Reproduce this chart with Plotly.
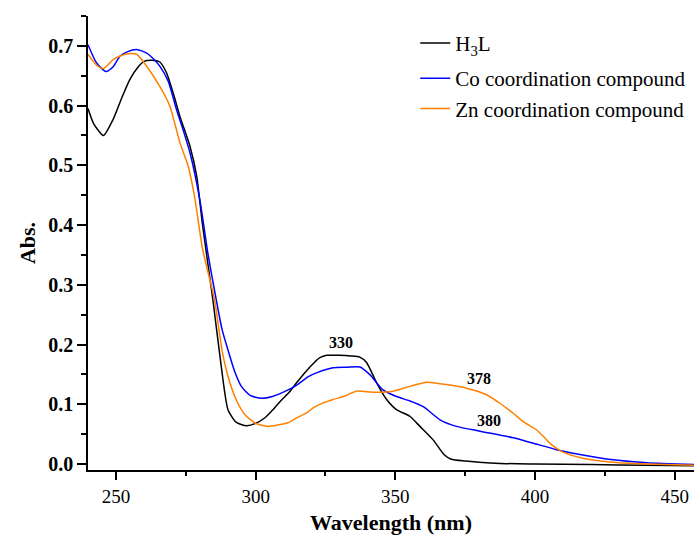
import plotly.graph_objects as go

# ---- data ----
h3l_x = [240, 242, 245.5, 249, 252, 255, 258, 260, 262.8, 265.7, 268.1, 270.5, 272.9, 276.5, 278.9,
         281, 284.7, 287.7, 290.1, 293, 296.7, 300, 303.2, 306, 309, 312, 315, 318, 321, 323, 325.4,
         330, 334, 337.3, 339.7, 343.3, 346.9, 350.4, 355.2, 358.8, 363.6, 367.4, 370, 375, 380,
         387.5, 400, 420, 440, 457]
h3l_y = [0.595, 0.57, 0.55, 0.577, 0.612, 0.644, 0.665, 0.674, 0.676, 0.673, 0.655, 0.621, 0.582, 0.532, 0.482,
         0.40, 0.275, 0.163, 0.091, 0.07, 0.064, 0.068, 0.077, 0.09, 0.106, 0.12, 0.138, 0.155, 0.17, 0.178, 0.182,
         0.182, 0.181, 0.179, 0.170, 0.136, 0.108, 0.091, 0.08, 0.063, 0.040, 0.016, 0.008, 0.005, 0.003,
         0.001, 0.0, -0.001, -0.002, -0.003]

co_x = [240, 243, 246.4, 249, 251.5, 254, 257.4, 261, 263.5, 265.7, 268.7, 271.7, 274, 276.5, 280,
        283, 285.9, 288, 290.1, 292.5, 294.9, 298, 302, 306, 311.6, 315, 318.7, 322, 327.7, 332.5,
        337.3, 340.8, 345.6, 350.4, 355, 360, 366, 371.9, 380.3, 392.2, 400, 407.7, 416.1, 428, 440, 457]
co_y = [0.702, 0.672, 0.657, 0.665, 0.683, 0.690, 0.694, 0.688, 0.678, 0.666, 0.641, 0.593, 0.56, 0.521, 0.443,
        0.35, 0.275, 0.225, 0.191, 0.155, 0.13, 0.115, 0.11, 0.113, 0.124, 0.133, 0.146, 0.153, 0.161, 0.162,
        0.1625, 0.15, 0.124, 0.113, 0.106, 0.096, 0.074, 0.063, 0.055, 0.044, 0.034, 0.024, 0.016, 0.007, 0.002, -0.001]

zn_x = [240, 243, 245.5, 249, 252, 254.4, 257.4, 261, 265.7, 269.3, 272.9, 275.9, 278.3, 281, 285.3,
        288, 290.1, 293, 296.1, 300, 304.4, 308.7, 311.6, 315, 318.7, 320.6, 324, 327.7, 332, 336,
        340, 344.5, 349.3, 355.2, 361.2, 368.3, 375.5, 382.7, 387, 392.2, 396, 400.6, 403, 406, 410,
        416, 422, 430, 440, 457]
zn_y = [0.686, 0.668, 0.662, 0.677, 0.684, 0.687, 0.686, 0.666, 0.632, 0.599, 0.538, 0.498, 0.443, 0.36, 0.275,
        0.19, 0.147, 0.108, 0.083, 0.068, 0.063, 0.066, 0.069, 0.078, 0.087, 0.094, 0.102, 0.108, 0.114, 0.122,
        0.121, 0.12, 0.122, 0.13, 0.137, 0.133, 0.127, 0.116, 0.103, 0.085, 0.07, 0.057, 0.046, 0.032, 0.02,
        0.011, 0.006, 0.002, 0.0, -0.002]

series_names = ["H<sub>3</sub>L", "Co coordination compound", "Zn coordination compound"]
series_colors = ["#000000", "#0000FF", "#FF8000"]
series_groups = ["a", "b", "b"]

peak_labels = ["330", "378", "380"]
peak_x = [330.5, 379.9, 383.5]
peak_y = [0.204, 0.144, 0.073]

x_ticks = [250, 300, 350, 400, 450]
y_ticks = [0.0, 0.1, 0.2, 0.3, 0.4, 0.5, 0.6, 0.7]

SERIF = "Liberation Serif, Times New Roman, serif"

fig = go.Figure()
for xs, ys, name, col, grp in zip([h3l_x, co_x, zn_x], [h3l_y, co_y, zn_y],
                                  series_names, series_colors, series_groups):
    fig.add_trace(go.Scatter(x=xs, y=ys, mode="lines", name=name, legendgroup=grp,
                             line=dict(color=col, width=1.5, shape="spline", smoothing=0.6)))

for t, xv, yv in zip(peak_labels, peak_x, peak_y):
    fig.add_annotation(x=xv, y=yv, text=t, showarrow=False,
                       font=dict(family=SERIF, size=16, color="black", weight="bold"))

fig.update_layout(
    width=694, height=536,
    margin=dict(l=88, r=0, t=16, b=66),
    paper_bgcolor="white", plot_bgcolor="white",
    showlegend=True,
    legend=dict(x=0.54, y=0.985, xanchor="left", yanchor="top",
                font=dict(family=SERIF, size=21, color="black"),
                bgcolor="rgba(0,0,0,0)", tracegroupgap=5, itemwidth=30),
    xaxis=dict(range=[240, 456.9], showgrid=False, zeroline=False,
               showline=True, linecolor="black", linewidth=1.5, mirror=False,
               ticks="outside", ticklen=8, tickwidth=1.5, tickcolor="black",
               tickvals=x_ticks,
               tickfont=dict(family=SERIF, size=19, color="black"),
               minor=dict(ticks="outside", ticklen=4, tickwidth=1.5, tickcolor="black", dtick=25),
               title=dict(text="Wavelength (nm)", standoff=9,
                          font=dict(family=SERIF, size=22, color="black", weight="bold"))),
    yaxis=dict(range=[-0.01, 0.75], showgrid=False, zeroline=False,
               showline=True, linecolor="black", linewidth=1.5, mirror=False,
               ticks="outside", ticklen=9, tickwidth=1.5, tickcolor="black",
               tickvals=y_ticks, tickformat=".1f",
               tickfont=dict(family=SERIF, size=20, color="black", weight="bold"),
               minor=dict(ticks="outside", ticklen=5, tickwidth=1.5, tickcolor="black", dtick=0.05, tick0=0),
               title=dict(text="Abs.", standoff=7,
                          font=dict(family=SERIF, size=22, color="black", weight="bold"))),
)

fig.write_html("out.html", config={"displayModeBar": False},
               post_script="document.body.style.margin='0';document.body.style.overflow='hidden';")
